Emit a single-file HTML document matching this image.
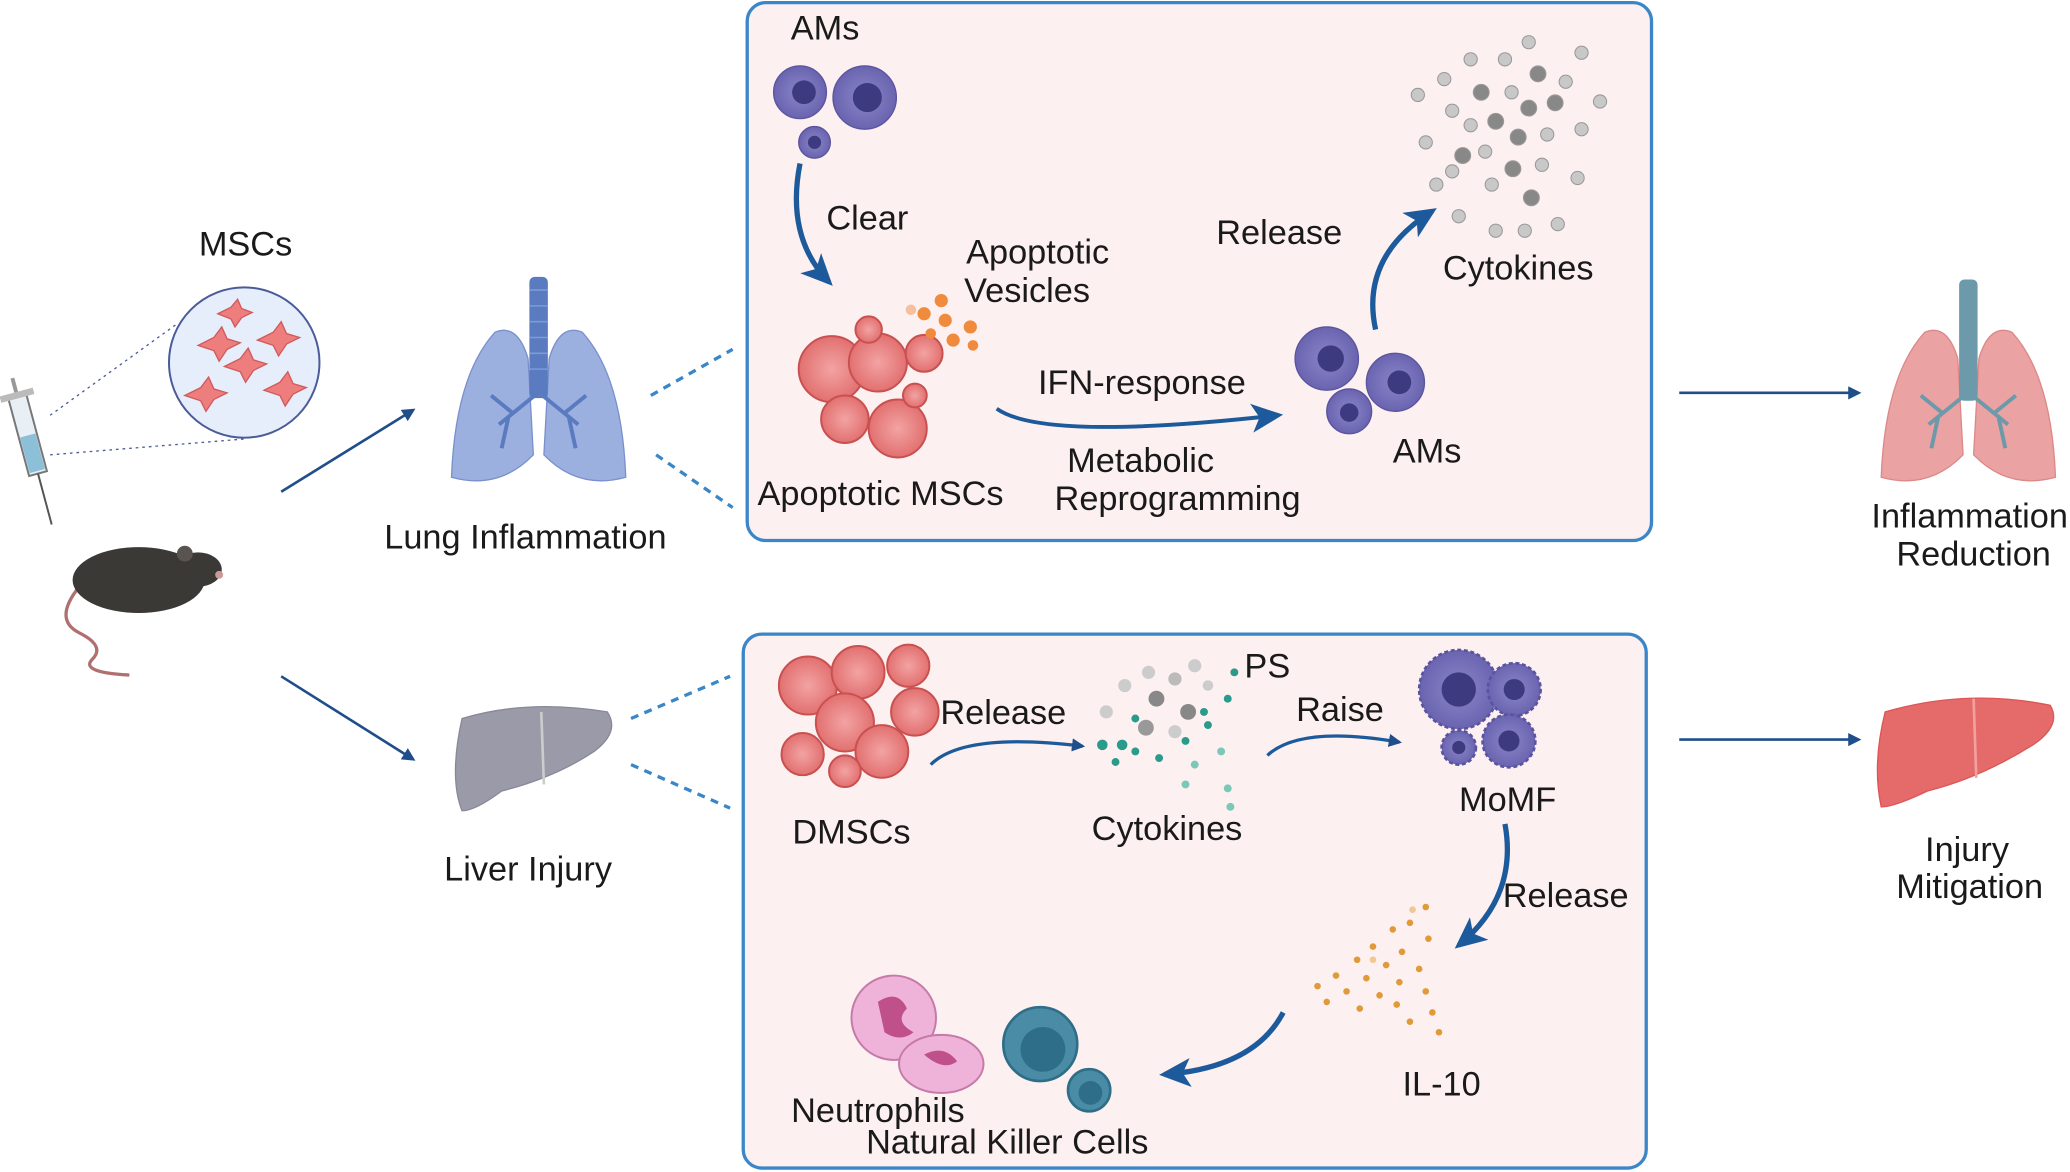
<!DOCTYPE html>
<html><head><meta charset="utf-8"><style>
html,body{margin:0;padding:0;background:#fff;}
svg{display:block;}
text{font-family:"Liberation Sans",sans-serif;font-size:26px;fill:#1a1a1a;text-anchor:middle;}
</style></head><body>
<svg width="2070" height="1172" viewBox="0 0 1568 889" preserveAspectRatio="none" xmlns="http://www.w3.org/2000/svg">
<defs>
<marker id="ah" markerWidth="10" markerHeight="10" refX="8" refY="5" orient="auto" markerUnits="userSpaceOnUse"><path d="M0,0 L10,5 L0,10 z" fill="#1f4e8a"/></marker>
<marker id="bh" markerWidth="26" markerHeight="26" refX="20" refY="13" orient="auto" markerUnits="userSpaceOnUse"><path d="M0,2 L24,13 L0,24 L6,13 z" fill="#1d5a9c"/></marker>
<radialGradient id="purp"><stop offset="0" stop-color="#8a86c8"/><stop offset="1" stop-color="#6a64b0"/></radialGradient>
<radialGradient id="redb"><stop offset="0" stop-color="#f3a3a3"/><stop offset="1" stop-color="#e27070"/></radialGradient>
</defs>

<rect x="566" y="2" width="685" height="408" rx="14" fill="#fdf0f0" stroke="#3a86c8" stroke-width="2.5"/>
<rect x="563" y="481" width="684" height="405" rx="14" fill="#fdf0f0" stroke="#3a86c8" stroke-width="2.5"/>

<text x="186" y="194">MSCs</text>
<circle cx="185" cy="275" r="57" fill="#e6edfb" stroke="#4a5b9a" stroke-width="1.5"/>
<g fill="#ee7d7d" stroke="#d05a5a" stroke-width="1">
<path d="M150,262 l12,-6 l6,-8 l4,9 l10,3 l-10,5 l-6,9 l-4,-8z"/>
<path d="M195,258 l12,-6 l6,-8 l4,9 l10,3 l-10,5 l-6,9 l-4,-8z"/>
<path d="M170,278 l12,-6 l6,-8 l4,9 l10,3 l-10,5 l-6,9 l-4,-8z"/>
<path d="M140,300 l12,-6 l6,-8 l4,9 l10,3 l-10,5 l-6,9 l-4,-8z"/>
<path d="M200,296 l12,-6 l6,-8 l4,9 l10,3 l-10,5 l-6,9 l-4,-8z"/>
<path d="M165,238 l10,-5 l5,-6 l3,7 l8,3 l-8,4 l-5,7 l-3,-6z"/>
</g>
<line x1="38" y1="315" x2="135" y2="245" stroke="#4a5b9a" stroke-dasharray="2,3"/>
<line x1="38" y1="345" x2="185" y2="333" stroke="#4a5b9a" stroke-dasharray="2,3"/>
<g transform="rotate(-15 22 330)">
<rect x="14" y="300" width="14" height="60" fill="#e8f0f5" stroke="#777" stroke-width="1.5"/>
<rect x="15" y="330" width="12" height="28" fill="#8cc0d8"/>
<rect x="8" y="296" width="26" height="5" fill="#bbb"/>
<line x1="21" y1="360" x2="21" y2="400" stroke="#555" stroke-width="1.5"/>
<line x1="21" y1="285" x2="21" y2="296" stroke="#999" stroke-width="3"/>
</g>
<path d="M60,445 Q40,470 60,480 Q80,490 70,500 Q60,510 98,512" fill="none" stroke="#b07070" stroke-width="2.5"/>
<ellipse cx="105" cy="440" rx="50" ry="25" fill="#3b3936"/>
<ellipse cx="150" cy="432" rx="18" ry="13" fill="#3b3936"/>
<circle cx="140" cy="420" r="6" fill="#5a5450"/>
<circle cx="166" cy="436" r="3" fill="#c99"/>

<line x1="213" y1="373" x2="313" y2="311" stroke="#1f4e8a" stroke-width="2" marker-end="url(#ah)"/>
<line x1="213" y1="513" x2="313" y2="576" stroke="#1f4e8a" stroke-width="2" marker-end="url(#ah)"/>

<!-- blue lungs -->
<g>
<path d="M400,272 Q392,245 375,252 Q345,285 342,362 Q378,372 404,345 Z" fill="#9cb0e0" stroke="#7a90cc"/>
<path d="M416,272 Q424,245 441,252 Q471,285 474,362 Q438,372 412,345 Z" fill="#9cb0e0" stroke="#7a90cc"/>
<rect x="401" y="210" width="14" height="92" rx="4" fill="#5b7bc0"/>
<g stroke="#7d9bd5" stroke-width="1.2"><line x1="401" y1="220" x2="415" y2="220"/><line x1="401" y1="232" x2="415" y2="232"/><line x1="401" y1="244" x2="415" y2="244"/><line x1="401" y1="256" x2="415" y2="256"/><line x1="401" y1="268" x2="415" y2="268"/><line x1="401" y1="280" x2="415" y2="280"/></g>
<path d="M405,300 L378,322 M388,313 L372,300 M385,317 L380,340 M411,300 L438,322 M428,313 L444,300 M431,317 L436,340" stroke="#5b7bc0" stroke-width="3" fill="none"/>
</g>
<text x="398" y="416">Lung Inflammation</text>
<path d="M350,545 Q400,530 460,540 Q470,555 450,570 Q420,590 380,600 Q360,615 350,615 Q340,590 350,545 Z" fill="#9a9aa8" stroke="#88889a"/>
<line x1="410" y1="540" x2="412" y2="595" stroke="#ccc" stroke-width="2"/>
<text x="400" y="668">Liver Injury</text>

<g stroke="#3a86c8" stroke-width="2.5" stroke-dasharray="6,5">
<line x1="493" y1="300" x2="555" y2="265"/>
<line x1="497" y1="345" x2="555" y2="385"/>
<line x1="478" y1="545" x2="553" y2="513"/>
<line x1="478" y1="580" x2="553" y2="613"/>
</g>

<line x1="1272" y1="298" x2="1408" y2="298" stroke="#1f4e8a" stroke-width="2" marker-end="url(#ah)"/>
<line x1="1272" y1="561" x2="1408" y2="561" stroke="#1f4e8a" stroke-width="2" marker-end="url(#ah)"/>

<!-- pink lungs -->
<g>
<path d="M1483,272 Q1475,245 1458,252 Q1428,285 1425,362 Q1461,372 1487,345 Z" fill="#eaa2a2" stroke="#d88"/>
<path d="M1499,272 Q1507,245 1524,252 Q1554,285 1557,362 Q1521,372 1495,345 Z" fill="#eaa2a2" stroke="#d88"/>
<rect x="1484" y="212" width="14" height="92" rx="4" fill="#6d9aaa"/>
<path d="M1488,300 L1461,322 M1471,313 L1455,300 M1468,317 L1463,340 M1494,300 L1521,322 M1511,313 L1527,300 M1514,317 L1519,340" stroke="#6d9aaa" stroke-width="3" fill="none"/>
</g>
<text x="1492" y="400">Inflammation</text>
<text x="1495" y="429">Reduction</text>
<path d="M1428,540 Q1490,522 1553,535 Q1562,550 1540,565 Q1500,590 1460,600 Q1435,612 1425,612 Q1418,580 1428,540 Z" fill="#e56a6a" stroke="#d55"/>
<line x1="1495" y1="530" x2="1497" y2="590" stroke="#f3a0a0" stroke-width="2"/>
<text x="1490" y="653">Injury</text>
<text x="1492" y="681">Mitigation</text>

<!-- TOP BOX -->
<text x="625" y="30">AMs</text>
<g fill="url(#purp)" stroke="#5a54a0">
<circle cx="606" cy="70" r="20"/><circle cx="655" cy="74" r="24"/><circle cx="617" cy="108" r="12"/>
</g>
<g fill="#3d3a80"><circle cx="609" cy="70" r="9"/><circle cx="657" cy="74" r="11"/><circle cx="617" cy="108" r="5"/></g>
<path d="M606,124 Q595,180 628,214" fill="none" stroke="#1d5a9c" stroke-width="4" marker-end="url(#bh)"/>
<text x="657" y="174">Clear</text>
<text x="786" y="200">Apoptotic</text>
<text x="778" y="229">Vesicles</text>
<g fill="url(#redb)" stroke="#c95050" stroke-width="1.5">
<circle cx="630" cy="280" r="25"/><circle cx="665" cy="275" r="22"/><circle cx="700" cy="268" r="14"/>
<circle cx="640" cy="318" r="18"/><circle cx="680" cy="325" r="22"/><circle cx="693" cy="300" r="9"/><circle cx="658" cy="250" r="10"/>
</g>
<g fill="#f08a3c"><circle cx="713" cy="228" r="5"/><circle cx="700" cy="238" r="5"/><circle cx="716" cy="243" r="5"/><circle cx="735" cy="248" r="5"/><circle cx="722" cy="258" r="5"/><circle cx="705" cy="253" r="4"/><circle cx="737" cy="262" r="4"/><circle cx="690" cy="235" r="4" fill="#f5c0a0"/></g>
<text x="667" y="383">Apoptotic MSCs</text>
<path d="M755,310 Q790,335 968,315" fill="none" stroke="#1d5a9c" stroke-width="3" marker-end="url(#bh)"/>
<text x="865" y="299">IFN-response</text>
<text x="864" y="358">Metabolic</text>
<text x="892" y="387">Reprogramming</text>
<g fill="url(#purp)" stroke="#5a54a0">
<circle cx="1005" cy="272" r="24"/><circle cx="1057" cy="290" r="22"/><circle cx="1022" cy="312" r="17"/>
</g>
<g fill="#3d3a80"><circle cx="1008" cy="272" r="10"/><circle cx="1060" cy="290" r="9"/><circle cx="1022" cy="313" r="7"/></g>
<text x="1081" y="351">AMs</text>
<path d="M1042,250 Q1030,195 1085,160" fill="none" stroke="#1d5a9c" stroke-width="4" marker-end="url(#bh)"/>
<text x="969" y="185">Release</text>
<g fill="#c8c8c8" stroke="#999" stroke-width="0.8">
<circle cx="1158" cy="32" r="5"/><circle cx="1114" cy="45" r="5"/><circle cx="1140" cy="45" r="5"/><circle cx="1198" cy="40" r="5"/>
<circle cx="1094" cy="60" r="5"/><circle cx="1122" cy="70" r="6" fill="#888"/><circle cx="1165" cy="56" r="6" fill="#888"/><circle cx="1186" cy="62" r="5"/>
<circle cx="1074" cy="72" r="5"/><circle cx="1145" cy="70" r="5"/><circle cx="1178" cy="78" r="6" fill="#888"/><circle cx="1212" cy="77" r="5"/>
<circle cx="1100" cy="84" r="5"/><circle cx="1133" cy="92" r="6" fill="#888"/><circle cx="1158" cy="82" r="6" fill="#888"/><circle cx="1114" cy="95" r="5"/>
<circle cx="1080" cy="108" r="5"/><circle cx="1150" cy="104" r="6" fill="#888"/><circle cx="1172" cy="102" r="5"/><circle cx="1198" cy="98" r="5"/>
<circle cx="1108" cy="118" r="6" fill="#888"/><circle cx="1125" cy="115" r="5"/><circle cx="1146" cy="128" r="6" fill="#888"/><circle cx="1168" cy="125" r="5"/>
<circle cx="1100" cy="130" r="5"/><circle cx="1130" cy="140" r="5"/><circle cx="1160" cy="150" r="6" fill="#888"/><circle cx="1195" cy="135" r="5"/>
<circle cx="1105" cy="164" r="5"/><circle cx="1133" cy="175" r="5"/><circle cx="1155" cy="175" r="5"/><circle cx="1180" cy="170" r="5"/><circle cx="1088" cy="140" r="5"/>
</g>
<text x="1150" y="212">Cytokines</text>

<!-- BOTTOM BOX -->
<g fill="url(#redb)" stroke="#c95050" stroke-width="1.5">
<circle cx="612" cy="520" r="22"/><circle cx="650" cy="510" r="20"/><circle cx="688" cy="505" r="16"/><circle cx="693" cy="540" r="18"/>
<circle cx="640" cy="548" r="22"/><circle cx="668" cy="570" r="20"/><circle cx="608" cy="572" r="16"/><circle cx="640" cy="585" r="12"/>
</g>
<text x="645" y="640">DMSCs</text>
<text x="760" y="549">Release</text>
<path d="M705,580 Q730,555 820,566" fill="none" stroke="#1d5a9c" stroke-width="2.5" marker-end="url(#ah)"/>
<g>
<circle cx="852" cy="520" r="5" fill="#ccc"/><circle cx="870" cy="510" r="5" fill="#ccc"/><circle cx="890" cy="515" r="5" fill="#bbb"/><circle cx="905" cy="505" r="5" fill="#ccc"/>
<circle cx="876" cy="530" r="6" fill="#888"/><circle cx="838" cy="540" r="5" fill="#ccc"/><circle cx="900" cy="540" r="6" fill="#888"/><circle cx="915" cy="520" r="4" fill="#ccc"/>
<circle cx="868" cy="552" r="6" fill="#999"/><circle cx="890" cy="555" r="5" fill="#ccc"/><circle cx="850" cy="565" r="4" fill="#2a9a8a"/><circle cx="835" cy="565" r="4" fill="#2a9a8a"/>
<circle cx="860" cy="570" r="3" fill="#2a9a8a"/><circle cx="878" cy="575" r="3" fill="#2a9a8a"/><circle cx="898" cy="562" r="3" fill="#2a9a8a"/><circle cx="915" cy="550" r="3" fill="#2a9a8a"/>
<circle cx="930" cy="530" r="3" fill="#2a9a8a"/><circle cx="935" cy="510" r="3" fill="#2a9a8a"/><circle cx="845" cy="578" r="3" fill="#2a9a8a"/><circle cx="905" cy="580" r="3" fill="#7ac8b8"/>
<circle cx="925" cy="570" r="3" fill="#7ac8b8"/><circle cx="898" cy="595" r="3" fill="#7ac8b8"/><circle cx="930" cy="598" r="3" fill="#7ac8b8"/><circle cx="932" cy="612" r="3" fill="#7ac8b8"/>
<circle cx="912" cy="540" r="3" fill="#2a9a8a"/><circle cx="860" cy="545" r="3" fill="#2a9a8a"/>
</g>
<text x="960" y="514">PS</text>
<text x="884" y="637">Cytokines</text>
<text x="1015" y="547">Raise</text>
<path d="M960,573 Q985,550 1060,563" fill="none" stroke="#1d5a9c" stroke-width="2.5" marker-end="url(#ah)"/>
<g fill="url(#purp)" stroke="#5a54a0" stroke-width="2" stroke-dasharray="3,2">
<circle cx="1105" cy="523" r="30"/><circle cx="1147" cy="523" r="20"/><circle cx="1143" cy="562" r="20"/><circle cx="1105" cy="567" r="13"/>
</g>
<g fill="#3d3a80"><circle cx="1105" cy="523" r="13"/><circle cx="1147" cy="523" r="8"/><circle cx="1143" cy="562" r="8"/><circle cx="1105" cy="567" r="5"/></g>
<text x="1142" y="615">MoMF</text>
<path d="M1140,625 Q1150,680 1105,717" fill="none" stroke="#1d5a9c" stroke-width="4" marker-end="url(#bh)"/>
<text x="1186" y="688">Release</text>
<g fill="#e09a3a">
<circle cx="1080" cy="688" r="2.5"/><circle cx="1068" cy="700" r="2.5"/><circle cx="1055" cy="705" r="2.5"/><circle cx="1082" cy="712" r="2.5"/>
<circle cx="1040" cy="718" r="2.5"/><circle cx="1062" cy="722" r="2.5"/><circle cx="1028" cy="728" r="2.5"/><circle cx="1050" cy="732" r="2.5"/>
<circle cx="1075" cy="735" r="2.5"/><circle cx="1012" cy="740" r="2.5"/><circle cx="1035" cy="742" r="2.5"/><circle cx="1060" cy="745" r="2.5"/>
<circle cx="998" cy="748" r="2.5"/><circle cx="1020" cy="752" r="2.5"/><circle cx="1045" cy="755" r="2.5"/><circle cx="1080" cy="752" r="2.5"/>
<circle cx="1005" cy="760" r="2.5"/><circle cx="1030" cy="765" r="2.5"/><circle cx="1058" cy="762" r="2.5"/><circle cx="1085" cy="768" r="2.5"/>
<circle cx="1068" cy="775" r="2.5"/><circle cx="1090" cy="783" r="2.5"/><circle cx="1040" cy="728" r="2.5" fill="#f0c890"/><circle cx="1070" cy="690" r="2.5" fill="#f0c890"/>
</g>
<text x="1092" y="831">IL-10</text>
<path d="M972,768 Q950,810 882,815" fill="none" stroke="#1d5a9c" stroke-width="4" marker-end="url(#bh)"/>
<circle cx="677" cy="772" r="32" fill="#efb2d8" stroke="#c57aa8" stroke-width="1.5"/>
<path d="M665,760 q15,-10 22,5 q-10,10 5,18 q-10,8 -22,0 z" fill="#c0508a"/>
<ellipse cx="713" cy="807" rx="32" ry="22" fill="#efb2d8" stroke="#c57aa8" stroke-width="1.5"/>
<path d="M700,800 q15,-8 25,5 q-10,8 -25,-5z" fill="#c0508a"/>
<circle cx="788" cy="792" r="28" fill="#4a8ca5" stroke="#2f6e88" stroke-width="2"/>
<circle cx="790" cy="796" r="17" fill="#2f6e88"/>
<circle cx="825" cy="827" r="16" fill="#4a8ca5" stroke="#2f6e88" stroke-width="2"/>
<circle cx="826" cy="829" r="9" fill="#2f6e88"/>
<text x="665" y="851">Neutrophils</text>
<text x="763" y="875">Natural Killer Cells</text>
</svg>
</body></html>
